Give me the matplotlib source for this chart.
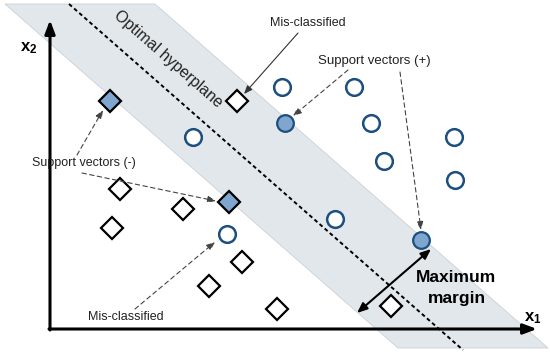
"""Support vector machine sketch: maximum-margin band, support vectors and mis-classified points."""
import numpy as np
import matplotlib
matplotlib.use("Agg")
import matplotlib.pyplot as plt

plt.rcParams["font.family"] = ["Liberation Sans", "DejaVu Sans"]
plt.rcParams["mathtext.fontset"] = "custom"
plt.rcParams["mathtext.bf"] = "Liberation Sans:bold"
plt.rcParams["mathtext.rm"] = "Liberation Sans"

# picture is drawn in pixel coordinates (x right, y down)
circles_x = [282, 354, 371, 454, 384, 455, 193, 335, 227]
circles_y = [87, 87, 123, 137, 161, 180, 137, 219, 234]
sv_pos_x = [285, 421]
sv_pos_y = [123, 240]

diamonds_x = [237, 120, 183, 112, 242, 209, 277, 391]
diamonds_y = [101, 189, 209, 228, 262, 286, 309, 306]
sv_neg_x = [110, 229]
sv_neg_y = [101, 202]

band_lower_x = [5, 398]
band_lower_y = [4, 348]
band_upper_x = [155, 548]
band_upper_y = [4, 348]
hyper_x = [69, 463]
hyper_y = [4, 350]

BLUE = "#1d4f7e"
SV_FILL = "#7fa6cf"
BAND = "#e2e7eb"


def main():
    fig = plt.figure(figsize=(5.5, 3.54), dpi=100)
    ax = fig.add_axes([0, 0, 1, 1])
    ax.set_xlim(0, 550)
    ax.set_ylim(354, 0)
    ax.axis("off")

    # margin band
    ax.fill(band_lower_x + band_upper_x[::-1], band_lower_y + band_upper_y[::-1],
            color=BAND, lw=0.6, ec="#c9d1d8", zorder=0)
    ax.plot(hyper_x, hyper_y, color="k", ls=(0, (2, 1.5)), lw=1.4, zorder=1)

    # axes arrows
    ax.annotate("", xy=(50, 20), xytext=(50, 330),
                arrowprops=dict(arrowstyle="-|>,head_length=0.8,head_width=0.3",
                                color="k", lw=2.2, shrinkA=0, shrinkB=0))
    ax.annotate("", xy=(537, 329), xytext=(49, 329),
                arrowprops=dict(arrowstyle="-|>,head_length=0.8,head_width=0.3",
                                color="k", lw=2.2, shrinkA=0, shrinkB=0))
    ax.text(20, 48, r"$\mathbf{x_2}$", fontsize=12, va="center", ha="left")
    ax.text(524, 318, r"$\mathbf{x_1}$", fontsize=12, va="center", ha="left")

    # points
    ax.plot(circles_x, circles_y, "o", ms=12, mfc="white", mec=BLUE, mew=1.8, zorder=3)
    ax.plot(sv_pos_x, sv_pos_y, "o", ms=12, mfc=SV_FILL, mec=BLUE, mew=1.6, zorder=3)
    ax.plot(diamonds_x, diamonds_y, "D", ms=11, mfc="white", mec="k", mew=1.6, zorder=3)
    ax.plot(sv_neg_x, sv_neg_y, "D", ms=11, mfc=SV_FILL, mec="k", mew=1.6, zorder=3)

    # labels and pointers
    ax.text(168, 59, "Optimal hyperplane", fontsize=11.5, rotation=-41.2,
            rotation_mode="anchor", ha="center", va="center", color="#222222")
    ax.text(308, 23, "Mis-classified", fontsize=9, ha="center", va="center", color="#222222")
    ax.annotate("", xy=(244, 94), xytext=(298, 33),
                arrowprops=dict(arrowstyle="-|>,head_length=0.5,head_width=0.2",
                                color="#333333", lw=0.8, shrinkA=0, shrinkB=0))

    ax.text(374, 61, "Support vectors (+)", fontsize=9.5, ha="center", va="center", color="#222222")
    dash = dict(arrowstyle="-|>,head_length=0.5,head_width=0.2", color="#444444",
                lw=0.8, ls=(0, (4, 3)), shrinkA=0, shrinkB=0)
    ax.annotate("", xy=(293, 116), xytext=(348, 70), arrowprops=dash)
    ax.annotate("", xy=(421, 230), xytext=(400, 72), arrowprops=dash)

    ax.text(84, 163, "Support vectors (-)", fontsize=9, ha="center", va="center", color="#222222")
    ax.annotate("", xy=(103, 110), xytext=(77, 155), arrowprops=dash)
    ax.annotate("", xy=(216, 201), xytext=(82, 173), arrowprops=dash)

    ax.text(126, 317, "Mis-classified", fontsize=9, ha="center", va="center", color="#222222")
    ax.annotate("", xy=(215, 242), xytext=(135, 309), arrowprops=dash)

    # margin width
    ax.annotate("", xy=(431, 249), xytext=(357, 313),
                arrowprops=dict(arrowstyle="<|-|>,head_length=0.6,head_width=0.25",
                                color="k", lw=1.5, shrinkA=0, shrinkB=0))
    ax.text(456, 278, "Maximum", fontsize=12.5, fontweight="bold", ha="center", va="center")
    ax.text(457, 298, "margin", fontsize=12.5, fontweight="bold", ha="center", va="center")

    fig.savefig("out.png", dpi=100)


if __name__ == "__main__":
    main()
